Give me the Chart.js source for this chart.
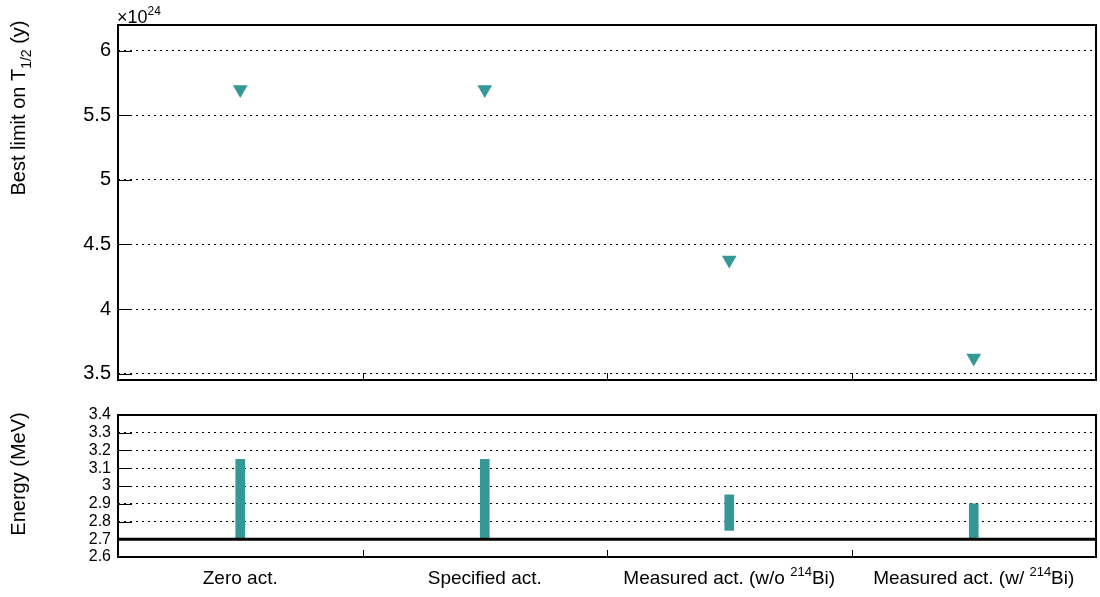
<!DOCTYPE html>
<html><head><meta charset="utf-8">
<script src="https://cdn.jsdelivr.net/npm/chart.js@4.4.0/dist/chart.umd.min.js"></script>
<style>
html,body{margin:0;padding:0;background:#fff;}
#wrap{position:relative;width:1100px;height:597px;}
#c1{position:absolute;left:0;top:0;}
#c2{position:absolute;left:0;top:385px;}
</style></head><body>
<div id="wrap"><canvas id="c1" width="1100" height="385"></canvas><canvas id="c2" width="1100" height="212"></canvas></div>
<script>
// ---- data ----
const categories = ['Zero act.', 'Specified act.', 'Measured act. (w/o ^{214}Bi)', 'Measured act. (w/ ^{214}Bi)'];
const halfLifeLimit = [5.70, 5.70, 4.38, 3.62];   // units of 10^24 y
const energyLow  = [2.70, 2.70, 2.75, 2.70];      // MeV
const energyHigh = [3.15, 3.15, 2.95, 2.90];      // MeV
const topTicks = [3.5, 4, 4.5, 5, 5.5, 6];
const bottomTicks = [2.6, 2.7, 2.8, 2.9, 3.0, 3.1, 3.2, 3.3, 3.4];
const thresholdEnergy = 2.7;
const topAxisTitle = 'Best limit on T_{1/2} (y)';
const bottomAxisTitle = 'Energy (MeV)';
const exponentLabel = '\u00d710^{24}';

// ---- styling / helpers ----
const FONT = '"Liberation Sans", Arial, Helvetica, sans-serif';
const TEAL = '#349996';
Chart.defaults.font.family = FONT;
Chart.defaults.color = '#000';

function parseRich(s){
  const out=[]; const re=/([\^_])\{([^}]*)\}/g; let last=0,m;
  while((m=re.exec(s))){
    if(m.index>last) out.push({t:s.slice(last,m.index),k:'n'});
    out.push({t:m[2],k:m[1]==='^'?'sup':'sub'});
    last=re.lastIndex;
  }
  if(last<s.length) out.push({t:s.slice(last),k:'n'});
  return out;
}
function drawRich(ctx,s,x,y,size,align){
  const segs=parseRich(s); let w=0;
  segs.forEach(g=>{ g.sz = g.k==='n'?size:Math.round(size*0.68); ctx.font=g.sz+'px '+FONT; g.w=ctx.measureText(g.t).width; w+=g.w; });
  let cx = align==='center'? x-w/2 : (align==='right'? x-w : x);
  ctx.textBaseline='alphabetic'; ctx.textAlign='left'; ctx.fillStyle='#000';
  segs.forEach(g=>{
    ctx.font=g.sz+'px '+FONT;
    const dy = g.k==='sup'? -size*0.42 : (g.k==='sub'? size*0.3 : 0);
    ctx.fillText(g.t,cx,y+dy); cx+=g.w;
  });
}
function frame(chart, opts){
  const ctx=chart.ctx, a=chart.chartArea, xs=chart.scales.x, ys=chart.scales.y;
  ctx.save();
  ctx.strokeStyle='#000'; ctx.lineWidth=1;
  ys.ticks.forEach(t=>{ const py=Math.round(ys.getPixelForValue(t.value))+0.5; ctx.beginPath(); ctx.moveTo(a.left,py); ctx.lineTo(a.left+14,py); ctx.stroke(); });
  for(let i=0;i<categories.length-1;i++){
    const px=Math.round((xs.getPixelForValue(i)+xs.getPixelForValue(i+1))/2)+0.5;
    ctx.beginPath(); ctx.moveTo(px,a.bottom); ctx.lineTo(px,a.bottom-7); ctx.stroke();
  }
  ctx.lineWidth=2;
  ctx.strokeRect(a.left,a.top,a.right-a.left,a.bottom-a.top);
  ctx.save();
  ctx.translate(25, opts.titleY);
  ctx.rotate(-Math.PI/2);
  drawRich(ctx, opts.title, 0, 0, 20, 'center');
  ctx.restore();
  ctx.restore();
}

function zeroPad(s){ s.paddingTop=0; s.paddingBottom=0; s.paddingLeft=0; s.paddingRight=0; }
function leftAxisFit(s){ s.width = 118; zeroPad(s); }

// ---- top chart ----
new Chart(document.getElementById('c1'), {
  type: 'line',
  data: { labels: categories, datasets: [{
    data: halfLifeLimit, showLine: false,
    pointStyle: 'triangle', rotation: 180, pointRadius: 8.5, pointHoverRadius: 8.5,
    pointBackgroundColor: TEAL, pointBorderColor: TEAL, pointBorderWidth: 0
  }]},
  options: {
    responsive: false, animation: false, devicePixelRatio: 1,
    layout: { autoPadding: false, padding: { left: 0, right: 4, top: 25, bottom: 0 } },
    plugins: { legend: { display: false }, tooltip: { enabled: false } },
    scales: {
      x: { type: 'category', offset: true, grid: { display: false }, border: { display: false },
           ticks: { display: false }, afterFit: s => { s.height = 5; zeroPad(s); } },
      y: {
        min: 3.45, max: 6.2,
        afterBuildTicks: s => { s.ticks = topTicks.map(v=>({value:v})); },
        afterFit: leftAxisFit,
        ticks: { font: { size: 20 }, padding: 7, color: '#000', autoSkip: false, callback: v => String(v) },
        grid: { color: '#000', lineWidth: 1, drawTicks: false },
        border: { display: false, dash: [2, 4] }
      }
    }
  },
  plugins: [{ id: 'frameTop', afterDraw(chart){
    frame(chart, { title: topAxisTitle, titleY: 108 });
    const a=chart.chartArea;
    drawRich(chart.ctx, exponentLabel, a.left-1, a.top-2, 18, 'left');
  }}]
});

// ---- bottom chart ----
new Chart(document.getElementById('c2'), {
  type: 'bar',
  data: { labels: categories, datasets: [{
    data: energyLow.map((lo,i)=>[lo, energyHigh[i]]),
    backgroundColor: TEAL, borderWidth: 0, barThickness: 9, borderSkipped: false
  }]},
  options: {
    responsive: false, animation: false, devicePixelRatio: 1,
    layout: { autoPadding: false, padding: { left: 0, right: 4, top: 30, bottom: 0 } },
    plugins: { legend: { display: false }, tooltip: { enabled: false } },
    scales: {
      x: { type: 'category', offset: true, grid: { display: false }, border: { display: false },
           ticks: { display: false }, afterFit: s => { s.height = 40; zeroPad(s); } },
      y: {
        min: 2.6, max: 3.4,
        afterBuildTicks: s => { s.ticks = bottomTicks.map(v=>({value:v})); },
        afterFit: leftAxisFit,
        ticks: { font: { size: 16 }, padding: 7, color: '#000', autoSkip: false, callback: v => String(Number(v.toFixed(1))) },
        grid: { color: '#000', lineWidth: 1, drawTicks: false },
        border: { display: false, dash: [2, 4] }
      }
    }
  },
  plugins: [{ id: 'frameBottom',
    afterDatasetsDraw(chart){
      const ctx=chart.ctx, a=chart.chartArea, ys=chart.scales.y;
      const py=ys.getPixelForValue(thresholdEnergy);
      ctx.save(); ctx.strokeStyle='#000'; ctx.lineWidth=3;
      ctx.beginPath(); ctx.moveTo(a.left,py); ctx.lineTo(a.right,py); ctx.stroke(); ctx.restore();
    },
    afterDraw(chart){
      frame(chart, { title: bottomAxisTitle, titleY: 89 });
      const xs=chart.scales.x, a=chart.chartArea;
      categories.forEach((c,i)=>{ drawRich(chart.ctx, c, xs.getPixelForValue(i), a.bottom+27, 19, 'center'); });
    }
  }]
});
</script>
</body></html>
